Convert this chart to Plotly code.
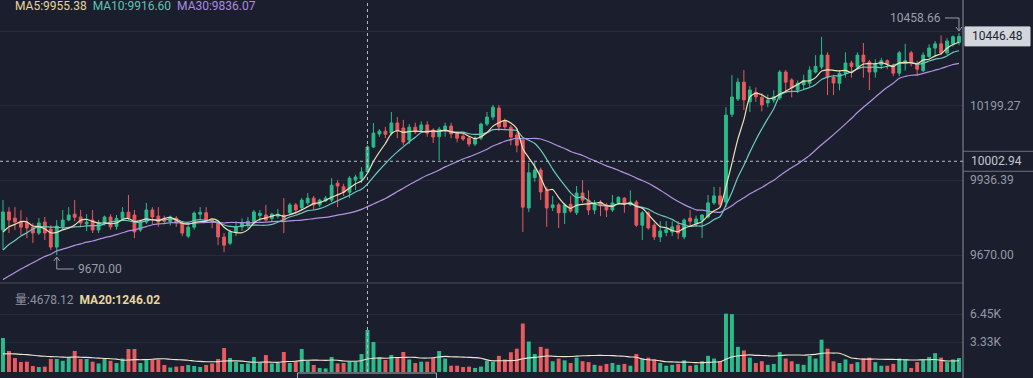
import plotly.graph_objects as go
import pandas as pd

W, H = 1033, 378

# ---------------- data ----------------
opens = [9759, 9823, 9801, 9787, 9784, 9769, 9748, 9787, 9762, 9698,
         9770, 9794, 9815, 9805, 9780, 9794, 9759, 9784, 9805, 9772,
         9800, 9822, 9812, 9759, 9787, 9830, 9808, 9800, 9787, 9801,
         9784, 9737, 9769, 9815, 9820, 9795, 9784, 9734, 9712, 9752,
         9770, 9775, 9787, 9810, 9812, 9800, 9808, 9812, 9820, 9848,
         9837, 9855, 9872, 9848, 9862, 9865, 9925, 9912, 9893, 9936,
         9940, 9965, 10054, 10100, 10110, 10103, 10139, 10121, 10078, 10124,
         10114, 10132, 10114, 10090, 10110, 10128, 10103, 10092, 10085, 10064,
         10085, 10135, 10160, 10192, 10146, 10124, 10096, 10078, 9837, 9945,
         9972, 9901, 9838, 9848, 9820, 9850, 9820, 9890, 9865, 9830,
         9858, 9848, 9830, 9855, 9872, 9848, 9858, 9776, 9820, 9776,
         9734, 9750, 9752, 9775, 9734, 9801, 9782, 9794, 9805, 9855,
         9880, 9858, 10170, 10224, 10284, 10214, 10248, 10230, 10210, 10220,
         10228, 10320, 10292, 10256, 10275, 10280, 10320, 10338, 10380, 10302,
         10280, 10316, 10352, 10338, 10380, 10356, 10320, 10345, 10360, 10345,
         10316, 10350, 10388, 10348, 10325, 10375, 10405, 10420, 10388, 10420,
         10425]
highs = [9865, 9840, 9840, 9829, 9804, 9783, 9801, 9805, 9776, 9794,
         9830, 9840, 9865, 9830, 9815, 9830, 9795, 9810, 9815, 9812,
         9840, 9883, 9830, 9795, 9855, 9840, 9840, 9810, 9810, 9808,
         9790, 9775, 9825, 9840, 9840, 9798, 9790, 9748, 9760, 9790,
         9800, 9805, 9830, 9830, 9848, 9820, 9833, 9872, 9855, 9855,
         9872, 9890, 9880, 9870, 9880, 9943, 9936, 9923, 9950, 9955,
         9982, 10060, 10139, 10117, 10125, 10178, 10160, 10150, 10135, 10140,
         10145, 10145, 10120, 10125, 10140, 10140, 10110, 10100, 10092, 10092,
         10140, 10178, 10203, 10203, 10155, 10132, 10107, 10088, 9997, 10000,
         9980, 9912, 9880, 9855, 9855, 9880, 9915, 9936, 9900, 9865,
         9865, 9855, 9883, 9878, 9876, 9900, 9865, 9826, 9826, 9783,
         9790, 9790, 9790, 9790, 9800, 9830, 9810, 9815, 9883, 9912,
         9912, 10195, 10309, 10298, 10327, 10270, 10265, 10245, 10240, 10255,
         10327, 10327, 10298, 10290, 10310, 10340, 10380, 10445, 10390, 10310,
         10327, 10390, 10360, 10390, 10423, 10363, 10365, 10370, 10365, 10350,
         10395, 10420, 10395, 10360, 10390, 10418, 10430, 10450, 10440, 10450,
         10458.66]
lows = [9688, 9748, 9759, 9741, 9730, 9713, 9741, 9723, 9688, 9670,
        9760, 9790, 9790, 9770, 9755, 9748, 9748, 9775, 9760, 9760,
        9794, 9794, 9730, 9752, 9780, 9780, 9770, 9780, 9775, 9770,
        9737, 9730, 9760, 9794, 9787, 9765, 9705, 9680, 9705, 9737,
        9755, 9765, 9780, 9790, 9787, 9790, 9800, 9748, 9815, 9815,
        9830, 9848, 9830, 9840, 9858, 9858, 9840, 9880, 9872, 9901,
        9926, 9958, 10050, 10090, 10085, 10095, 10085, 10060, 10064, 10100,
        10107, 10090, 10068, 10007, 10090, 10085, 10070, 10075, 10055, 10057,
        10078, 10128, 10150, 10110, 10115, 10060, 10035, 9752, 9823, 9930,
        9865, 9770, 9826, 9766, 9780, 9820, 9812, 9855, 9812, 9815,
        9808, 9805, 9823, 9848, 9820, 9845, 9770, 9723, 9760, 9723,
        9716, 9737, 9737, 9726, 9726, 9776, 9770, 9730, 9800, 9848,
        9840, 9840, 10160, 10217, 10185, 10178, 10214, 10180, 10195, 10210,
        10220, 10245, 10230, 10245, 10260, 10265, 10315, 10330, 10238, 10238,
        10255, 10300, 10300, 10330, 10300, 10256, 10300, 10330, 10330, 10305,
        10305, 10325, 10340, 10305, 10320, 10370, 10375, 10380, 10380, 10410,
        10415]
closes = [9823, 9794, 9787, 9769, 9766, 9748, 9784, 9748, 9698, 9773,
          9794, 9812, 9804, 9784, 9787, 9759, 9784, 9805, 9770, 9800,
          9822, 9801, 9752, 9787, 9830, 9805, 9787, 9790, 9805, 9784,
          9748, 9769, 9819, 9822, 9794, 9787, 9734, 9705, 9752, 9770,
          9784, 9790, 9823, 9818, 9794, 9815, 9815, 9794, 9848, 9830,
          9865, 9872, 9848, 9865, 9872, 9918, 9915, 9893, 9943, 9947,
          9965, 10054, 10103, 10110, 10099, 10139, 10110, 10071, 10124, 10107,
          10132, 10103, 10089, 10117, 10128, 10100, 10085, 10082, 10064, 10085,
          10135, 10160, 10195, 10125, 10125, 10089, 10060, 9840, 9962, 9972,
          9894, 9837, 9848, 9820, 9848, 9826, 9890, 9865, 9830, 9855,
          9845, 9830, 9855, 9875, 9850, 9858, 9776, 9820, 9766, 9734,
          9755, 9760, 9770, 9748, 9794, 9790, 9798, 9812, 9855, 9880,
          9850, 10167, 10231, 10284, 10221, 10256, 10232, 10203, 10220, 10232,
          10320, 10284, 10263, 10280, 10290, 10327, 10340, 10380, 10302, 10281,
          10315, 10352, 10340, 10380, 10356, 10320, 10350, 10360, 10348, 10316,
          10388, 10360, 10352, 10330, 10380, 10405, 10420, 10388, 10430, 10445,
          10446.48]
volumes = [3788, 2340, 1560, 1114, 1150, 670, 560, 600, 1450, 1450,
           1250, 1670, 2340, 1450, 1450, 1150, 950, 1450, 1250, 1000,
           1500, 2560, 2560, 1000, 1450, 1350, 1350, 780, 500, 600,
           670, 780, 670, 560, 780, 950, 1450, 2670, 1560, 1114,
           890, 950, 1670, 1000, 1890, 950, 1000, 2230, 1000, 1150,
           2560, 1250, 780, 450, 400, 1670, 950, 1000, 1150, 1150,
           2000, 4678.12, 3340, 1670, 1340, 1890, 1670, 2230, 1400, 1000,
           1150, 1150, 1560, 2340, 1500, 700, 700, 560, 600, 450,
           600, 1250, 1150, 1800, 1400, 2200, 2600, 5400, 3400, 2000,
           2800, 2600, 1200, 1500, 1300, 1000, 1600, 1200, 1100, 800,
           700, 900, 1000, 800, 900, 700, 2000, 1500, 1600, 1400,
           1000, 700, 800, 900, 1300, 700, 800, 1200, 1800, 1500,
           1200, 6500, 6450, 2800, 2400, 1600, 1000, 1200, 800, 900,
           2200, 1500, 1200, 900, 800, 1800, 1500, 3600, 2600, 1200,
           1000, 1400, 900, 1100, 1500, 1600, 1100, 700, 700, 900,
           1500, 1400, 450, 1100, 1400, 1670, 2100, 1600, 1100, 1400,
           1560]
# closes / volumes before the visible window (only feed the moving averages)
prior_closes = [9405, 9420, 9398, 9430, 9415, 9440, 9425, 9450, 9435,
                9600, 9615, 9590, 9625, 9610, 9630, 9605, 9620, 9640, 9615, 9630,
                9600, 9640, 9615, 9650, 9615,
                9700, 9745, 9720, 9770]
prior_volumes = [2100, 1800, 2300, 1700, 1900, 2000, 1600, 2200, 1800, 1900,
                 2100, 1700, 2000, 1850, 1950, 1800, 2050, 1900, 1950]

price_ticks = [9670.00, 9936.39, 10199.27, 10462.15]
price_tick_text = ["9670.00", "9936.39", "10199.27", ""]
vol_ticks = [3330, 6450]
vol_tick_text = ["3.33K", "6.45K"]
legend_ma = ["MA5:9955.38", "MA10:9916.60", "MA30:9836.07"]
legend_vol = ["量:4678.12", "MA20:1246.02"]
cross_index = 61
cross_price = 10002.94

# ---------------- styles ----------------
BG = "#1b1e2c"
GRID = "#262a3a"
UP = "#29bb8b"
DOWN = "#e85a5d"
C_MA5 = "#efe2b6"
C_MA10 = "#6cc9bd"
C_MA30 = "#b392e4"
T_MA5 = "#e6d59f"
T_MA10 = "#5cc3b5"
T_MA30 = "#ae8ae0"
AXIS_TXT = "#9599a8"
FONT = "Roboto, 'Noto Sans CJK SC', sans-serif"

n = len(closes)
xs = list(range(n))

all_c = pd.Series(prior_closes + closes)
ma5 = all_c.rolling(5).mean().iloc[len(prior_closes):].tolist()
ma10 = all_c.rolling(10).mean().iloc[len(prior_closes):].tolist()
ma30 = all_c.rolling(30).mean().iloc[len(prior_closes):].tolist()
all_v = pd.Series(prior_volumes + volumes)
vma20 = all_v.rolling(20).mean().iloc[len(prior_volumes):].tolist()

vol_colors = [UP if c >= o else DOWN for o, c in zip(opens, closes)]

PLOT_R = 963 / W
SPLIT = (H - 283) / H

fig = go.Figure()
fig.add_trace(go.Candlestick(
    x=xs, open=opens, high=highs, low=lows, close=closes,
    increasing=dict(line=dict(color=UP, width=1), fillcolor=UP),
    decreasing=dict(line=dict(color=DOWN, width=1), fillcolor=DOWN),
    whiskerwidth=0, xaxis="x", yaxis="y", showlegend=False, hoverinfo="skip"))
for vals, col in [(ma30, C_MA30), (ma10, C_MA10), (ma5, C_MA5)]:
    fig.add_trace(go.Scatter(x=xs, y=vals, mode="lines",
                             line=dict(color=col, width=1.2, shape="spline", smoothing=0.6),
                             xaxis="x", yaxis="y", showlegend=False, hoverinfo="skip"))
fig.add_trace(go.Bar(x=xs, y=volumes, marker=dict(color=vol_colors, line=dict(width=0)),
                     width=0.66, xaxis="x2", yaxis="y2", showlegend=False, hoverinfo="skip"))
fig.add_trace(go.Scatter(x=xs, y=vma20, mode="lines",
                         line=dict(color="#eee6cf", width=1.1, shape="spline", smoothing=0.6),
                         xaxis="x2", yaxis="y2", showlegend=False, hoverinfo="skip"))

# price scale: y pixel 255 -> 9670, 3.552 per px
ppx = 3.552
p_bot = 9670 - (283 - 255) * ppx
p_top = 9670 + 255 * ppx
vpx = 111.4
v_bot = -(378 - 372) * vpx
v_top = (372 - 283) * vpx

xr = [-0.5, n - 1 + 0.67]
fig.update_layout(
    width=W, height=H, margin=dict(l=0, r=0, t=0, b=0),
    paper_bgcolor=BG, plot_bgcolor=BG, bargap=0.3, boxgap=0.33,
    font=dict(family=FONT, size=12, color=AXIS_TXT),
    xaxis=dict(domain=[0, PLOT_R], range=xr, showgrid=False, zeroline=False,
               showticklabels=False, rangeslider=dict(visible=False), anchor="y"),
    xaxis2=dict(domain=[0, PLOT_R], range=xr, showgrid=False, zeroline=False,
                showticklabels=False, anchor="y2", matches="x"),
    yaxis=dict(domain=[SPLIT, 1], range=[p_bot, p_top], side="right", anchor="x",
               tickvals=price_ticks, ticktext=price_tick_text, showgrid=True,
               gridcolor=GRID, gridwidth=1, zeroline=False, ticks="",
               ticklabelstandoff=6, tickfont=dict(size=12, color=AXIS_TXT)),
    yaxis2=dict(domain=[0, SPLIT], range=[v_bot, v_top], side="right", anchor="x2",
                tickvals=vol_ticks, ticktext=vol_tick_text, showgrid=True,
                gridcolor=GRID, gridwidth=1, zeroline=False, ticks="",
                ticklabelstandoff=6, tickfont=dict(size=12, color=AXIS_TXT)),
)

shapes = []
# panel separator and right axis border
shapes.append(dict(type="line", xref="paper", yref="paper", x0=0, x1=PLOT_R, y0=SPLIT, y1=SPLIT,
                   line=dict(color="#4a4e5e", width=1)))
shapes.append(dict(type="line", xref="paper", yref="paper", x0=PLOT_R, x1=PLOT_R, y0=0, y1=1,
                   line=dict(color="#8d909c", width=1)))
# crosshair
shapes.append(dict(type="line", xref="x", yref="paper", x0=cross_index, x1=cross_index, y0=0, y1=1,
                   line=dict(color="#b8bcc8", width=1, dash="3px,3px")))
shapes.append(dict(type="line", xref="paper", yref="y", x0=0, x1=PLOT_R, y0=cross_price, y1=cross_price,
                   line=dict(color="#b8bcc8", width=1, dash="3px,3px")))
# crosshair price label borders
for dy in (-10, 10):
    shapes.append(dict(type="line", xref="paper", yref="y", ysizemode="pixel", yanchor=cross_price,
                       x0=PLOT_R, x1=1, y0=dy, y1=dy, line=dict(color="#6e7282", width=1)))
# last price box
last = closes[-1]
shapes.append(dict(type="rect", xref="paper", yref="y", ysizemode="pixel", yanchor=last,
                   x0=965 / W, x1=1030 / W, y0=-9.5, y1=9.5, fillcolor="#d3d6dd",
                   line=dict(color="#d3d6dd", width=1), layer="above"))
# crosshair time label (bottom, cut off)
shapes.append(dict(type="rect", xref="x", yref="paper", xsizemode="pixel", xanchor=cross_index,
                   x0=-70, x1=69, y0=-0.05, y1=1 - 373 / H, fillcolor=BG,
                   line=dict(color="#a9adb8", width=1)))

# lowest / highest marks
i_low = min(range(n), key=lambda i: lows[i])
i_high = max(range(n), key=lambda i: highs[i])
MARK = "#9a9eab"
shapes.append(dict(type="path", xref="x", yref="y", xsizemode="pixel", ysizemode="pixel",
                   xanchor=i_low, yanchor=lows[i_low],
                   path="M0,-2 L0,-14 L17,-14", line=dict(color=MARK, width=1)))
shapes.append(dict(type="path", xref="x", yref="y", xsizemode="pixel", ysizemode="pixel",
                   xanchor=i_low, yanchor=lows[i_low],
                   path="M-3,-6 L0,-2 L3,-6", line=dict(color=MARK, width=1)))
shapes.append(dict(type="path", xref="x", yref="y", xsizemode="pixel", ysizemode="pixel",
                   xanchor=i_high, yanchor=highs[i_high],
                   path="M0,2 L0,15 L-14,15", line=dict(color=MARK, width=1)))
shapes.append(dict(type="path", xref="x", yref="y", xsizemode="pixel", ysizemode="pixel",
                   xanchor=i_high, yanchor=highs[i_high],
                   path="M-3,6 L0,2 L3,6", line=dict(color=MARK, width=1)))
fig.update_layout(shapes=shapes)

ann = []
ann.append(dict(xref="x", yref="y", x=i_low, y=lows[i_low], xshift=19, yshift=-14,
                xanchor="left", yanchor="middle", showarrow=False,
                text=f"{lows[i_low]:.2f}", font=dict(size=12, color=MARK)))
ann.append(dict(xref="x", yref="y", x=i_high, y=highs[i_high], xshift=-16, yshift=15,
                xanchor="right", yanchor="middle", showarrow=False,
                text=f"{highs[i_high]:.2f}", font=dict(size=12, color=MARK)))
ann.append(dict(xref="paper", yref="y", x=997.5 / W, y=last, xanchor="center", yanchor="middle",
                showarrow=False, text=f"{last:.2f}", font=dict(size=12, color="#22252f")))
ann.append(dict(xref="paper", yref="y", x=969 / W, y=cross_price, xanchor="left", yanchor="middle",
                showarrow=False, text=f"{cross_price:.2f}", font=dict(size=12, color="#c4c8d2")))
ma_txt = (f"<span style='color:{T_MA5}'>{legend_ma[0]}</span>  "
          f"<span style='color:{T_MA10}'>{legend_ma[1]}</span>  "
          f"<span style='color:{T_MA30}'>{legend_ma[2]}</span>")
ann.append(dict(xref="paper", yref="paper", x=13 / W, y=1 - 6 / H, xanchor="left", yanchor="middle",
                showarrow=False, text=ma_txt, font=dict(size=12)))
vol_txt = (f"<span style='color:#8e92a0'>{legend_vol[0]}</span>  "
           f"<span style='color:{T_MA5}'><b>{legend_vol[1]}</b></span>")
ann.append(dict(xref="paper", yref="paper", x=13 / W, y=1 - 300 / H, xanchor="left", yanchor="middle",
                showarrow=False, text=vol_txt, font=dict(size=12)))
fig.update_layout(annotations=ann)

fig.write_html("out.html",
               config={"displayModeBar": False},
               post_script="document.body.style.margin='0';document.body.style.padding='0';"
                           "document.body.style.overflow='hidden';"
                           "document.body.style.background='" + BG + "';")
